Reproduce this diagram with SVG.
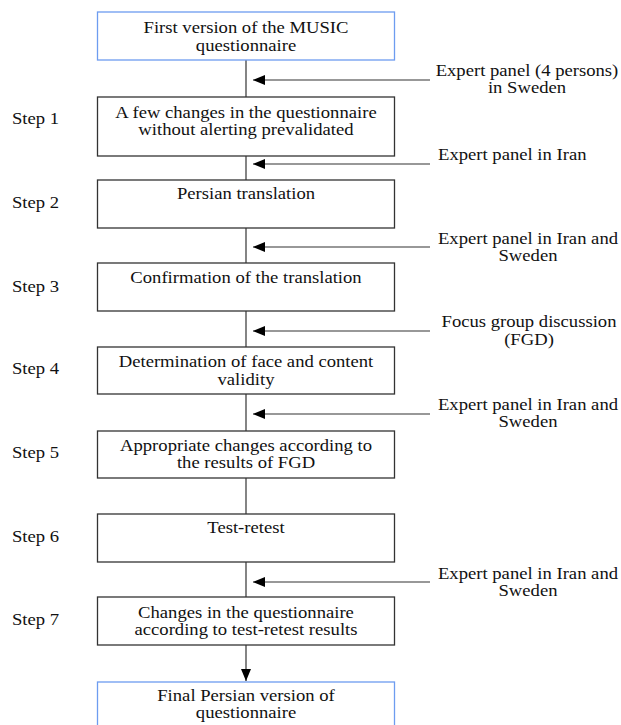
<svg xmlns="http://www.w3.org/2000/svg" width="621" height="725" viewBox="0 0 621 725">
<defs>
<style>
.t{font-family:"Liberation Serif","Tinos","Times New Roman","DejaVu Serif",serif;font-size:16.5px;fill:#111;}
.m{text-anchor:middle;}
.box{fill:#fff;stroke:#333;stroke-width:1.3;}
.blue{fill:#fff;stroke:#6d9cf0;stroke-width:1.3;}
.ln{stroke:#333;stroke-width:1.2;fill:none;}
</style>
<marker id="ah" viewBox="0 0 12 10" refX="12" refY="5" markerWidth="12" markerHeight="10" markerUnits="userSpaceOnUse" orient="auto">
<path d="M0,0 L12,5 L0,10 Z" fill="#000"/>
</marker>
</defs>
<rect width="621" height="725" fill="#fff"/>

<g id="connectors">
<line class="ln" x1="246" y1="60" x2="246" y2="97"/>
<line class="ln" x1="246" y1="156" x2="246" y2="180"/>
<line class="ln" x1="246" y1="228" x2="246" y2="263"/>
<line class="ln" x1="246" y1="311" x2="246" y2="347"/>
<line class="ln" x1="246" y1="394" x2="246" y2="431"/>
<line class="ln" x1="246" y1="478" x2="246" y2="514"/>
<line class="ln" x1="246" y1="562" x2="246" y2="597"/>
<line class="ln" x1="246" y1="645" x2="246" y2="681" marker-end="url(#ah)"/>
<line class="ln" x1="430" y1="80" x2="253" y2="80" marker-end="url(#ah)"/>
<line class="ln" x1="430" y1="164" x2="253" y2="164" marker-end="url(#ah)"/>
<line class="ln" x1="430" y1="247" x2="253" y2="247" marker-end="url(#ah)"/>
<line class="ln" x1="430" y1="331" x2="253" y2="331" marker-end="url(#ah)"/>
<line class="ln" x1="430" y1="414" x2="253" y2="414" marker-end="url(#ah)"/>
<line class="ln" x1="430" y1="582" x2="253" y2="582" marker-end="url(#ah)"/>
</g>

<g id="start">
<rect class="blue" x="97.5" y="12" width="297" height="48"/>
<text class="t m" transform="translate(246,33) scale(1.13,1)">First version of the MUSIC</text>
<text class="t m" transform="translate(246,51) scale(1.13,1)">questionnaire</text>
</g>
<g id="step1">
<rect class="box" x="97.5" y="97" width="297" height="59"/>
<text class="t m" transform="translate(246,118) scale(1.13,1)">A few changes in the questionnaire</text>
<text class="t m" transform="translate(246,135) scale(1.13,1)">without alerting prevalidated</text>
<text class="t" transform="translate(12,124) scale(1.13,1)">Step 1</text>
</g>
<g id="step2">
<rect class="box" x="97.5" y="180" width="297" height="48"/>
<text class="t m" transform="translate(246,199) scale(1.13,1)">Persian translation</text>
<text class="t" transform="translate(12,208) scale(1.13,1)">Step 2</text>
</g>
<g id="step3">
<rect class="box" x="97.5" y="263" width="297" height="48"/>
<text class="t m" transform="translate(246,283) scale(1.13,1)">Confirmation of the translation</text>
<text class="t" transform="translate(12,292) scale(1.13,1)">Step 3</text>
</g>
<g id="step4">
<rect class="box" x="97.5" y="347" width="297" height="47"/>
<text class="t m" transform="translate(246,367) scale(1.13,1)">Determination of face and content</text>
<text class="t m" transform="translate(246,385) scale(1.13,1)">validity</text>
<text class="t" transform="translate(12,374) scale(1.13,1)">Step 4</text>
</g>
<g id="step5">
<rect class="box" x="97.5" y="431" width="297" height="47"/>
<text class="t m" transform="translate(246,451) scale(1.13,1)">Appropriate changes according to</text>
<text class="t m" transform="translate(246,468) scale(1.13,1)">the results of FGD</text>
<text class="t" transform="translate(12,458) scale(1.13,1)">Step 5</text>
</g>
<g id="step6">
<rect class="box" x="97.5" y="514" width="297" height="48"/>
<text class="t m" transform="translate(246,533) scale(1.13,1)">Test-retest</text>
<text class="t" transform="translate(12,542) scale(1.13,1)">Step 6</text>
</g>
<g id="step7">
<rect class="box" x="97.5" y="597" width="297" height="48"/>
<text class="t m" transform="translate(246,618) scale(1.13,1)">Changes in the questionnaire</text>
<text class="t m" transform="translate(246,635) scale(1.13,1)">according to test-retest results</text>
<text class="t" transform="translate(12,625) scale(1.13,1)">Step 7</text>
</g>
<g id="final">
<rect class="blue" x="97.5" y="682" width="297" height="48"/>
<text class="t m" transform="translate(246,701) scale(1.13,1)">Final Persian version of</text>
<text class="t m" transform="translate(246,718) scale(1.13,1)">questionnaire</text>
</g>

<g id="input1">
<text class="t m" transform="translate(527,76) scale(1.13,1)">Expert panel (4 persons)</text>
<text class="t m" transform="translate(527,93) scale(1.13,1)">in Sweden</text>
</g>
<g id="input2">
<text class="t" transform="translate(438,160) scale(1.13,1)">Expert panel in Iran</text>
</g>
<g id="input3">
<text class="t m" transform="translate(528,244) scale(1.13,1)">Expert panel in Iran and</text>
<text class="t m" transform="translate(528,261) scale(1.13,1)">Sweden</text>
</g>
<g id="input4">
<text class="t m" transform="translate(529,327) scale(1.13,1)">Focus group discussion</text>
<text class="t m" transform="translate(529,345) scale(1.13,1)">(FGD)</text>
</g>
<g id="input5">
<text class="t m" transform="translate(528,410) scale(1.13,1)">Expert panel in Iran and</text>
<text class="t m" transform="translate(528,427) scale(1.13,1)">Sweden</text>
</g>
<g id="input6">
<text class="t m" transform="translate(528,579) scale(1.13,1)">Expert panel in Iran and</text>
<text class="t m" transform="translate(528,596) scale(1.13,1)">Sweden</text>
</g>
</svg>
